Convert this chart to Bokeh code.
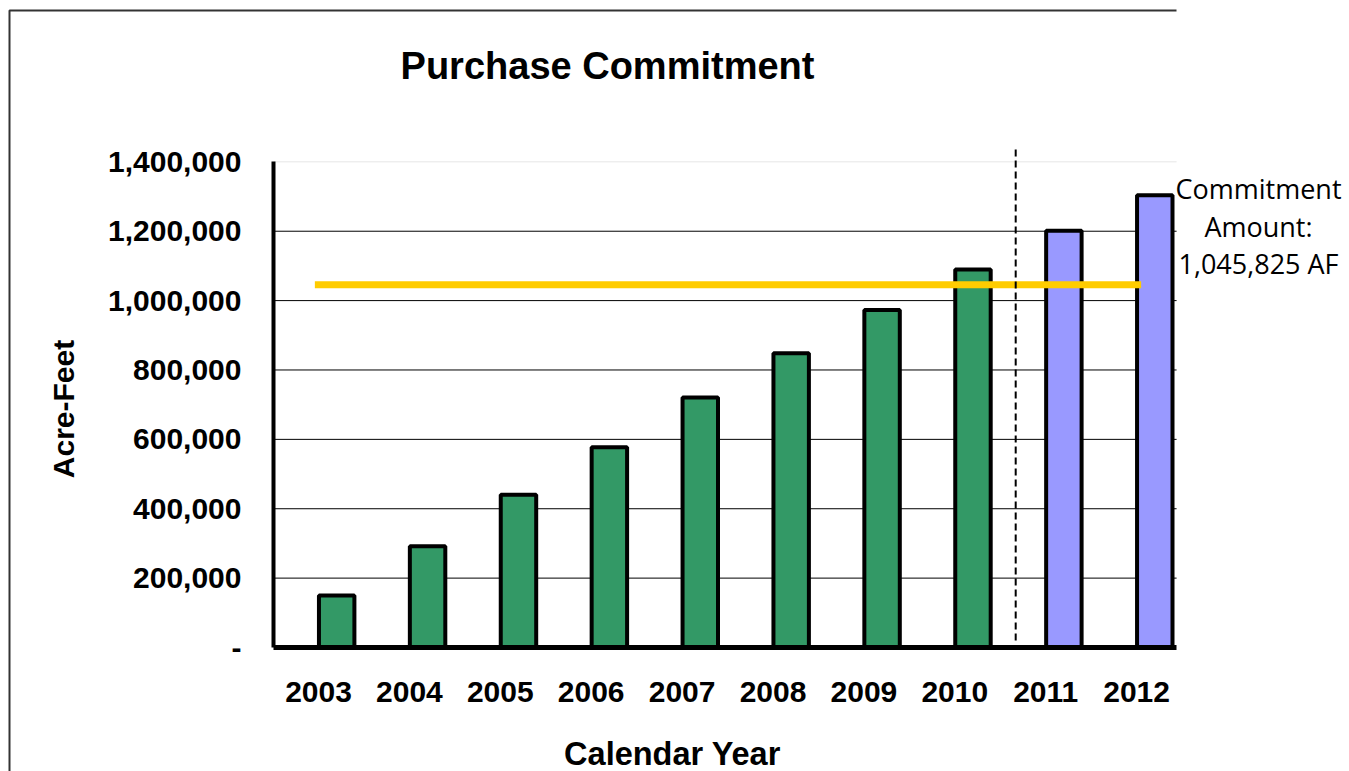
import math
from bokeh.plotting import figure
from bokeh.models import (Range1d, FixedTicker, NumeralTickFormatter, Label,
                          PolyAnnotation, ColumnDataSource)
from bokeh.embed import file_html
from bokeh.resources import INLINE

# ---- data ----
years = ["2003", "2004", "2005", "2006", "2007", "2008", "2009", "2010", "2011", "2012"]
acre_feet = [150000, 292000, 440000, 577000, 721000, 848000, 973000, 1090000, 1201000, 1304000]
bar_colors = ["#339966"] * 8 + ["#9999FF"] * 2
commitment_amount = 1045825
y_ticks = [0, 200000, 400000, 600000, 800000, 1000000, 1200000, 1400000]
title_text = "Purchase Commitment"
x_title = "Calendar Year"
y_title = "Acre-Feet"
note_lines = ["Commitment", "Amount:", "1,045,825 AF"]

W, H = 1349, 771
# inner plot area in pixels: x 273..1176 ; y 147..647
PX_PER_CAT = 90.9
PX_PER_AF = 346.9e-6
X0, X1 = -0.495, 9.44          # inner x extent (category units)
Y_AXIS_TOP = 1400000

x_start = X0 - 273 / PX_PER_CAT
x_end = X0 + (W - 273) / PX_PER_CAT
y_start = -(H - 647) / PX_PER_AF
y_end = 647 / PX_PER_AF

p = figure(width=W, height=H, output_backend="svg", toolbar_location=None,
           x_range=Range1d(x_start, x_end), y_range=Range1d(y_start, y_end),
           min_border=0)
p.outline_line_color = None
p.background_fill_color = "white"
p.border_fill_color = "white"
p.xgrid.visible = False
p.ygrid.visible = False

idx = list(range(len(years)))
src = ColumnDataSource(dict(x=[i + 0.2 for i in idx], top=acre_feet, color=bar_colors))

# horizontal grid lines limited to the inner plot
grid_vals = y_ticks[1:-1]
p.segment(x0=[X0] * len(grid_vals), y0=grid_vals, x1=[X1] * len(grid_vals), y1=grid_vals,
          line_color="black", line_width=1)
p.segment(x0=[X0], y0=[y_ticks[-1]], x1=[X1], y1=[y_ticks[-1]],
          line_color="#e6e6e6", line_width=1)

# bars
p.vbar(x="x", top="top", bottom=0, width=0.39, source=src, fill_color="color",
       line_color="black", line_width=4)

# commitment line
p.segment(x0=[-0.04], y0=[commitment_amount], x1=[9.05], y1=[commitment_amount],
          line_color="#FFCC00", line_width=7)

# dashed separator between actual and projected years
p.segment(x0=[7.67], y0=[20000], x1=[7.67], y1=[1438000],
          line_color="black", line_width=2, line_dash="7 4")

# axes
font = "Liberation Sans"
xa = p.xaxis[0]
xa.fixed_location = 0
xa.bounds = (X0, X1)
xa.ticker = FixedTicker(ticks=idx)
xa.major_label_overrides = {i: y for i, y in zip(idx, years)}
xa.axis_line_color = "black"
xa.axis_line_width = 5
xa.major_tick_line_color = None
xa.minor_tick_line_color = None
xa.major_tick_out = 0
xa.major_tick_in = 0
xa.major_label_standoff = 34
xa.major_label_text_font = font
xa.major_label_text_font_style = "bold"
xa.major_label_text_font_size = "30px"
xa.major_label_text_color = "black"

ya = p.yaxis[0]
ya.fixed_location = X0
ya.ticker = FixedTicker(ticks=y_ticks)
ya.formatter = NumeralTickFormatter(format="0,0")
ya.major_label_overrides = {0: "-"}
ya.bounds = (0, Y_AXIS_TOP)
ya.axis_line_color = "black"
ya.axis_line_width = 4
ya.major_tick_line_color = None
ya.minor_tick_line_color = None
ya.major_tick_out = 0
ya.major_tick_in = 0
ya.major_label_standoff = 32
ya.major_label_text_font = font
ya.major_label_text_font_style = "bold"
ya.major_label_text_font_size = "30px"
ya.major_label_text_color = "black"

# axis titles
p.add_layout(Label(x=672, y=H - 753, x_units="screen", y_units="screen",
                   text=x_title, text_align="center", text_baseline="middle",
                   text_font=font, text_font_style="bold", text_font_size="32.5px",
                   text_color="black"))
p.add_layout(Label(x=63, y=H - 408.5, x_units="screen", y_units="screen",
                   text=y_title, text_align="center", text_baseline="middle",
                   angle=math.pi / 2,
                   text_font=font, text_font_style="bold", text_font_size="30px",
                   text_color="black"))

# title
p.add_layout(Label(x=607, y=H - 65, x_units="screen", y_units="screen",
                   text=title_text, text_align="center", text_baseline="middle",
                   text_font=font, text_font_style="bold", text_font_size="38px",
                   text_color="black"))

# commitment note
for line, Y in zip(note_lines, [188, 226, 263]):
    p.add_layout(Label(x=1258, y=H - Y, x_units="screen", y_units="screen",
                       text=line, text_align="center", text_baseline="middle",
                       text_font="Open Sans", text_font_size="27px", text_color="black"))

# outer border (top and left edges); screen y counts up from the bottom
p.add_layout(PolyAnnotation(xs=[9, 9, 1176, 9],
                            ys=[H - 800, H - 10, H - 10, H - 10],
                            xs_units="screen", ys_units="screen",
                            fill_color=None, fill_alpha=0,
                            line_color="#333333", line_alpha=1.0, line_width=2))

open("out.html", "w").write(file_html(p, INLINE))
